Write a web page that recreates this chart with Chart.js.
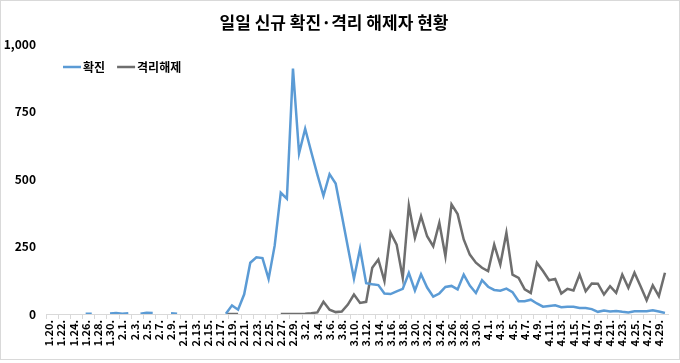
<!DOCTYPE html>
<html>
<head>
<meta charset="utf-8">
<script src="https://cdn.jsdelivr.net/npm/chart.js@4/dist/chart.umd.min.js"></script>
<style>
  html, body { margin: 0; padding: 0; background: #fff; }
  #wrap { width: 680px; height: 363px; position: relative; }
</style>
</head>
<body>
<div id="wrap"><canvas id="c" width="680" height="363"></canvas></div>
<script>
const title = "일일 신규 확진·격리 해제자 현황";
const seriesNames = ["확진", "격리해제"];

const categories = [
  "1.20.","1.21.","1.22.","1.23.","1.24.","1.25.","1.26.","1.27.","1.28.","1.29.","1.30.","1.31.",
  "2.1.","2.2.","2.3.","2.4.","2.5.","2.6.","2.7.","2.8.","2.9.","2.10.","2.11.","2.12.","2.13.","2.14.","2.15.",
  "2.16.","2.17.","2.18.","2.19.","2.20.","2.21.","2.22.","2.23.","2.24.","2.25.","2.26.","2.27.","2.28.","2.29.",
  "3.1.","3.2.","3.3.","3.4.","3.5.","3.6.","3.7.","3.8.","3.9.","3.10.","3.11.","3.12.","3.13.","3.14.","3.15.",
  "3.16.","3.17.","3.18.","3.19.","3.20.","3.21.","3.22.","3.23.","3.24.","3.25.","3.26.","3.27.","3.28.","3.29.",
  "3.30.","3.31.",
  "4.1.","4.2.","4.3.","4.4.","4.5.","4.6.","4.7.","4.8.","4.9.","4.10.","4.11.","4.12.","4.13.","4.14.","4.15.",
  "4.16.","4.17.","4.18.","4.19.","4.20.","4.21.","4.22.","4.23.","4.24.","4.25.","4.26.","4.27.","4.28.","4.29.","4.30."
];

// 확진 (daily new confirmed); null = blank day
const confirmed = [
  1, null, null, null, 1, null, 1, 1, null, null, 2, 4,
  1, 3, null, 1, 5, 4, null, null, 3, 1, null, null, null, null, null,
  1, null, 1, 32, 16, 73, 190, 210, 207, 130, 253, 449, 427, 909,
  595, 686, 600, 516, 438, 518, 483, 367, 248, 131, 242, 114, 110, 107, 76,
  74, 84, 93, 152, 87, 147, 98, 64, 76, 100, 104, 91, 146, 105,
  78, 125,
  101, 89, 86, 94, 81, 47, 47, 53, 39, 27, 30, 32, 25, 27, 27,
  22, 22, 18, 8, 13, 9, 11, 8, 6, 10, 10, 10, 14, 9, 4
];

// 격리해제 (daily released from isolation); null = blank day
const released = [
  null, null, null, null, null, null, null, null, null, null, null, null,
  null, null, null, null, null, null, null, null, null, null, null, null, null, null, null,
  null, null, 0, 0, 0, null, null, null, null, null, null, 0, 0, 0,
  0, 1, 3, 6, 45, 16, 7, 9, 35, 72, 41, 45, 171, 202, 122,
  301, 257, 134, 402, 282, 362, 288, 251, 338, 214, 406, 370, 276, 220,
  190, 171,
  159, 257, 183, 301, 146, 134, 91, 78, 190, 159, 125, 130, 76, 93, 87,
  146, 84, 113, 112, 72, 103, 78, 146, 97, 153, 103, 51, 106, 66, 153
];

const yTicks = [0, 250, 500, 750, 1000];

const FONT = "'Noto Sans CJK KR', 'Noto Sans', sans-serif";

const borderPlugin = {
  id: 'outerBorder',
  afterDraw(chart) {
    const ctx = chart.ctx;
    ctx.save();
    ctx.strokeStyle = '#d9d9d9';
    ctx.lineWidth = 1;
    ctx.strokeRect(0.5, 0.5, chart.width - 1, chart.height - 4);
    ctx.restore();
  }
};

// Legend drawn inside the plot area, top-left, in one row
const inlineLegend = {
  id: 'inlineLegend',
  afterDraw(chart) {
    const ctx = chart.ctx;
    const area = chart.chartArea;
    let x = area.left + 17;
    const y = area.top + 23;
    ctx.save();
    ctx.font = "bold 12px " + FONT;
    ctx.textBaseline = 'middle';
    ctx.textAlign = 'left';
    chart.data.datasets.forEach((ds) => {
      ctx.strokeStyle = ds.borderColor;
      ctx.lineWidth = ds.borderWidth;
      ctx.beginPath();
      ctx.moveTo(x, y);
      ctx.lineTo(x + 18, y);
      ctx.stroke();
      x += 20;
      ctx.fillStyle = '#000';
      ctx.fillText(ds.label, x, y);
      x += ctx.measureText(ds.label).width + 12;
    });
    ctx.restore();
  }
};

new Chart(document.getElementById('c'), {
  type: 'line',
  data: {
    labels: categories,
    datasets: [
      {
        label: seriesNames[0],
        data: confirmed,
        borderColor: '#5b9bd5',
        backgroundColor: '#5b9bd5',
        borderWidth: 2.5,
        pointRadius: 0,
        pointHoverRadius: 0,
        tension: 0,
        spanGaps: false
      },
      {
        label: seriesNames[1],
        data: released,
        borderColor: '#6e6e6e',
        backgroundColor: '#6e6e6e',
        borderWidth: 2.5,
        pointRadius: 0,
        pointHoverRadius: 0,
        tension: 0,
        spanGaps: false
      }
    ]
  },
  options: {
    responsive: false,
    animation: false,
    events: [],
    layout: { padding: { left: 0, right: 12, top: 0, bottom: 4 } },
    plugins: {
      title: {
        display: true,
        text: title,
        color: '#000',
        font: { family: FONT, size: 17, weight: 'bold' },
        padding: { top: 12, bottom: 11.6 }
      },
      legend: { display: false },
      tooltip: { enabled: false }
    },
    scales: {
      x: {
        type: 'category',
        offset: true,
        afterFit(scale) { scale.height = 45; },
        grid: {
          display: true,
          offset: true,
          drawOnChartArea: false,
          drawTicks: true,
          tickLength: 5,
          color: (ctx) => (ctx.index % 2 === 0 ? '#d9d9d9' : 'rgba(0,0,0,0)')
        },
        border: { display: true, color: '#d9d9d9', width: 1 },
        ticks: {
          autoSkip: false,
          minRotation: 90,
          maxRotation: 90,
          padding: 1,
          color: '#000',
          font: { family: FONT, size: 11, weight: 'bold' },
          callback: function (value, index) {
            return index % 2 === 0 ? categories[index] : '';
          }
        }
      },
      y: {
        min: yTicks[0],
        max: yTicks[yTicks.length - 1],
        afterFit(scale) { scale.width = 46; },
        afterBuildTicks(scale) { scale.ticks = yTicks.map(v => ({ value: v })); },
        grid: { display: false, drawTicks: false },
        border: { display: false },
        ticks: {
          padding: 10,
          color: '#000',
          font: { family: FONT, size: 12, weight: 'bold' },
          callback: (v) => v.toLocaleString('en-US')
        }
      }
    }
  },
  plugins: [borderPlugin, inlineLegend]
});
</script>
</body>
</html>
